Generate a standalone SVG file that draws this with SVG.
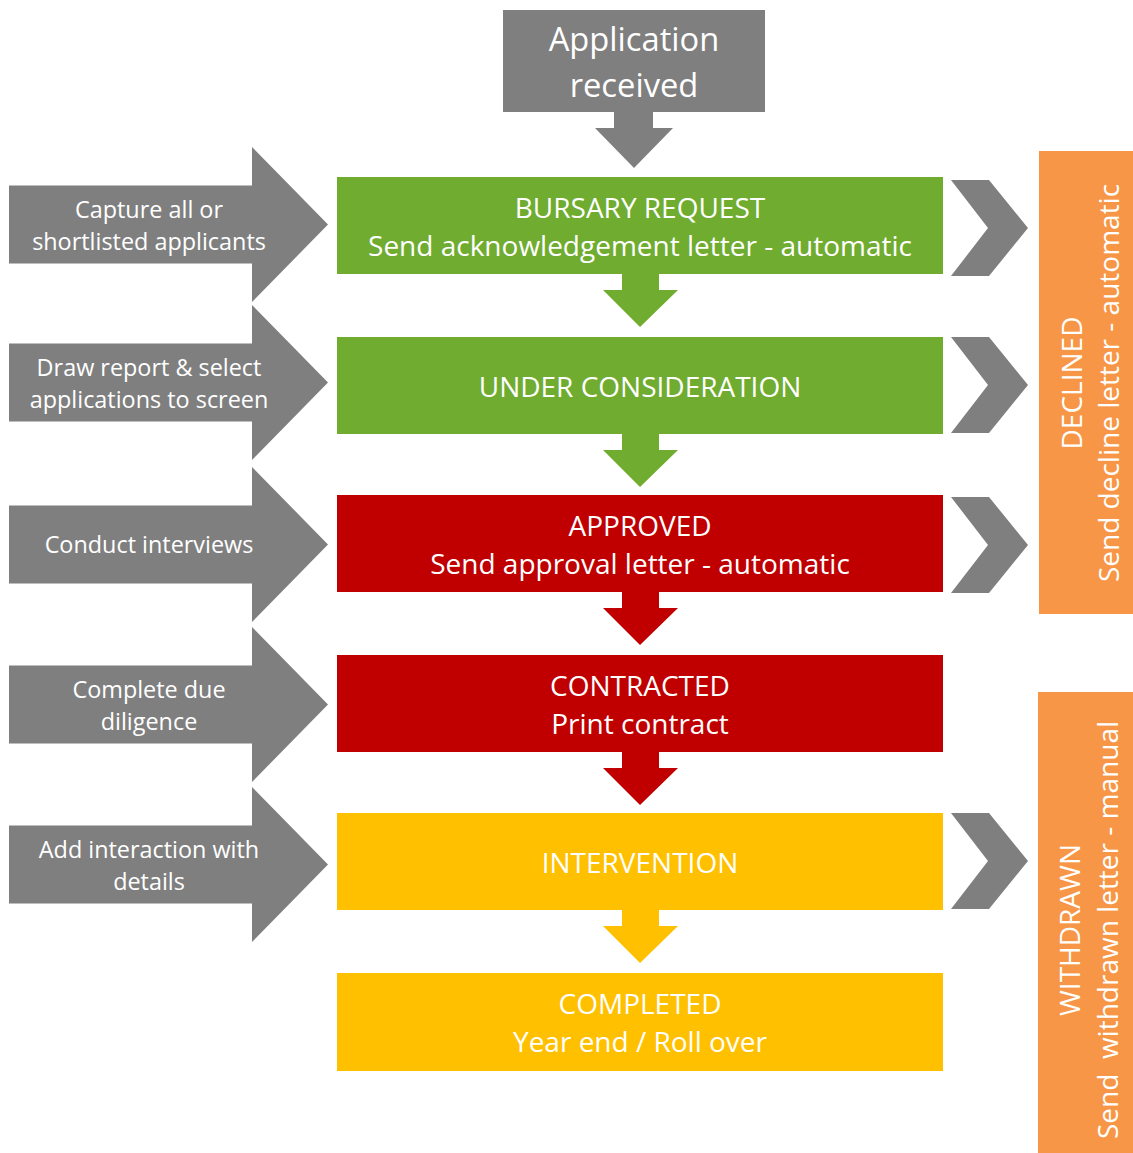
<svg xmlns="http://www.w3.org/2000/svg" width="1133" height="1153" viewBox="0 0 1133 1153">
  <style>
    .gray { fill: #7f7f7f; }
    .green { fill: #6fac2f; }
    .red { fill: #c00000; }
    .yellow { fill: #ffc000; }
    .orange { fill: #f79646; }
    text { font-family: "Open Sans", "Noto Sans", "Liberation Sans", sans-serif; fill: #ffffff; text-anchor: middle; }
    .main { font-size: 28px; }
    .side { font-size: 23.4px; }
    .top { font-size: 32.7px; }
    .vert { font-size: 28px; }
  </style>
  <defs>
    <!-- flow arrow between stages, tip at (0,0) -->
    <path id="downArrow" d="M-18,-53 L19,-53 L19,-37 L38,-37 L0,0 L-37,-37 L-18,-37 Z"/>
    <!-- left-hand action arrow, centred vertically on 0 -->
    <path id="sideArrow" d="M9,-39 L252,-39 L252,-77.5 L328,0 L252,77.5 L252,39 L9,39 Z"/>
    <!-- chevron pointing to the outcome panels -->
    <path id="chevron" d="M951,-48 L989,-48 L1028,0 L989,48 L951,48 L988,0 Z"/>
  </defs>

  <!-- start node -->
  <g id="node-application">
    <rect class="gray" x="503" y="10" width="262" height="102"/>
    <text class="top" x="634" y="51">Application</text>
    <text class="top" x="634" y="97">received</text>
  </g>

  <!-- stage boxes -->
  <g id="node-bursary-request">
    <rect class="green" x="337" y="177" width="606" height="97"/>
    <text class="main" x="640" y="218">BURSARY REQUEST</text>
    <text class="main" x="640" y="256">Send acknowledgement letter - automatic</text>
  </g>
  <g id="node-under-consideration">
    <rect class="green" x="337" y="337" width="606" height="97"/>
    <text class="main" x="640" y="397">UNDER CONSIDERATION</text>
  </g>
  <g id="node-approved">
    <rect class="red" x="337" y="495" width="606" height="97"/>
    <text class="main" x="640" y="536">APPROVED</text>
    <text class="main" x="640" y="574">Send approval letter - automatic</text>
  </g>
  <g id="node-contracted">
    <rect class="red" x="337" y="655" width="606" height="97"/>
    <text class="main" x="640" y="696">CONTRACTED</text>
    <text class="main" x="640" y="734">Print contract</text>
  </g>
  <g id="node-intervention">
    <rect class="yellow" x="337" y="813" width="606" height="97"/>
    <text class="main" x="640" y="873">INTERVENTION</text>
  </g>
  <g id="node-completed">
    <rect class="yellow" x="337" y="973" width="606" height="98"/>
    <text class="main" x="640" y="1014">COMPLETED</text>
    <text class="main" x="640" y="1052">Year end / Roll over</text>
  </g>

  <!-- action arrows on the left -->
  <g id="node-capture">
    <use href="#sideArrow" class="gray" transform="translate(0,224.5)"/>
    <text class="side" x="149" y="218">Capture all or</text>
    <text class="side" x="149" y="250">shortlisted applicants</text>
  </g>
  <g id="node-draw-report">
    <use href="#sideArrow" class="gray" transform="translate(0,382.5)"/>
    <text class="side" x="149" y="376">Draw report &amp; select</text>
    <text class="side" x="149" y="408">applications to screen</text>
  </g>
  <g id="node-interviews">
    <use href="#sideArrow" class="gray" transform="translate(0,544.5)"/>
    <text class="side" x="149" y="553">Conduct interviews</text>
  </g>
  <g id="node-due-diligence">
    <use href="#sideArrow" class="gray" transform="translate(0,704.5)"/>
    <text class="side" x="149" y="698">Complete due</text>
    <text class="side" x="149" y="730">diligence</text>
  </g>
  <g id="node-interaction">
    <use href="#sideArrow" class="gray" transform="translate(0,864.5)"/>
    <text class="side" x="149" y="858">Add interaction with</text>
    <text class="side" x="149" y="890">details</text>
  </g>

  <!-- outcome panels on the right -->
  <g id="node-declined">
    <rect class="orange" x="1039" y="151" width="94" height="463"/>
    <text class="vert" transform="translate(1082,383) rotate(-90)">DECLINED</text>
    <text class="vert" transform="translate(1119,383) rotate(-90)">Send decline letter - automatic</text>
  </g>
  <g id="node-withdrawn">
    <rect class="orange" x="1038" y="692" width="95" height="461"/>
    <text class="vert" transform="translate(1080,930) rotate(-90)">WITHDRAWN</text>
    <text class="vert" transform="translate(1118,930) rotate(-90)" xml:space="preserve">Send  withdrawn letter - manual</text>
  </g>

  <!-- connectors -->
  <g id="connectors">
    <path class="gray" d="M614,112 L653,112 L653,128 L673,128 L634,168 L595,128 L614,128 Z"/>
    <use href="#downArrow" class="green" transform="translate(640,327)"/>
    <use href="#downArrow" class="green" transform="translate(640,487)"/>
    <use href="#downArrow" class="red" transform="translate(640,645)"/>
    <use href="#downArrow" class="red" transform="translate(640,805)"/>
    <use href="#downArrow" class="yellow" transform="translate(640,963)"/>
    <use href="#chevron" class="gray" transform="translate(0,228)"/>
    <use href="#chevron" class="gray" transform="translate(0,385)"/>
    <use href="#chevron" class="gray" transform="translate(0,545)"/>
    <use href="#chevron" class="gray" transform="translate(0,861)"/>
  </g>
</svg>
